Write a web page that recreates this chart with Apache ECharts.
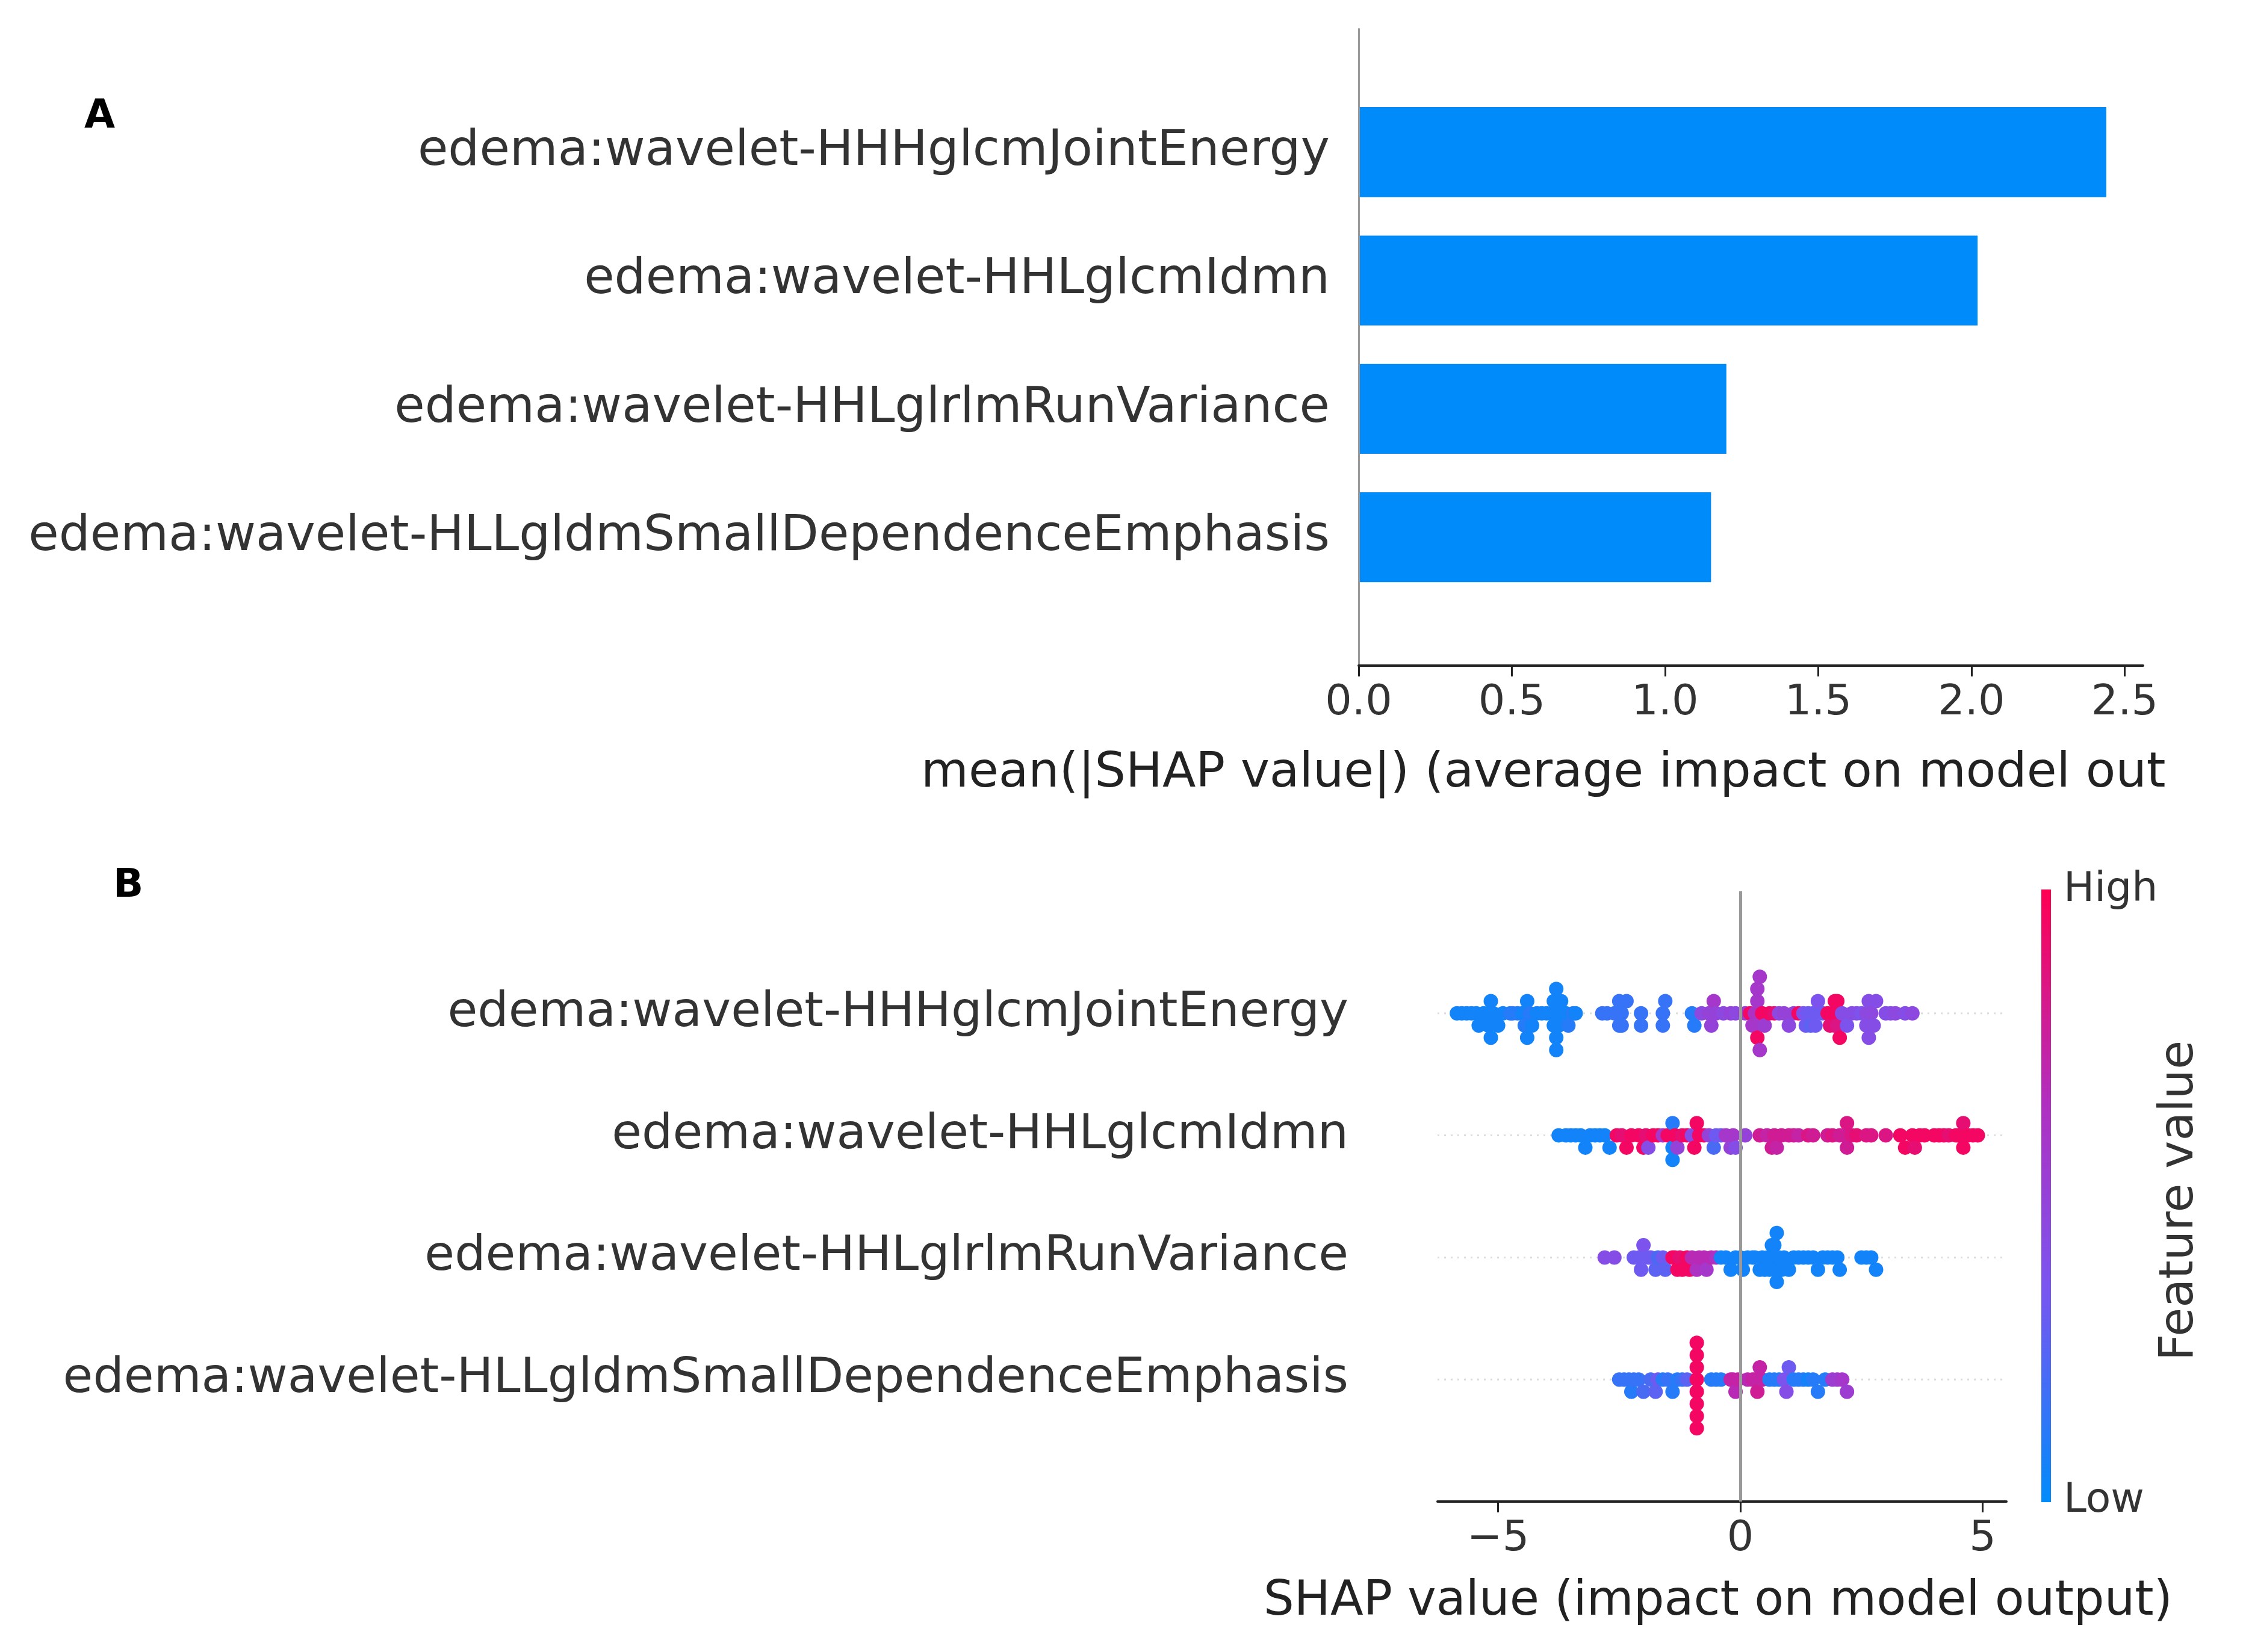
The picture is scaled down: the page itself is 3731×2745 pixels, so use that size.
<!DOCTYPE html>
<html><head><meta charset="utf-8">
<script src="https://cdn.jsdelivr.net/npm/echarts@6/dist/echarts.min.js"></script>
<style>html,body{margin:0;background:#fff}#c{width:3731px;height:2745px}</style>
</head><body><div id="c"></div>
<script>
// feature names, top to bottom
var features = ['edema:wavelet-HHHglcmJointEnergy', 'edema:wavelet-HHLglcmIdmn',
  'edema:wavelet-HHLglrlmRunVariance', 'edema:wavelet-HLLgldmSmallDependenceEmphasis'];
var meanAbsShap = [2.44, 2.02, 1.20, 1.15];
var barTicks = [0, 0.5, 1.0, 1.5, 2.0, 2.5];
var swarmTicks = [-5, 0, 5];

// [shap value, feature value 0..1] per feature
var row0 = [[-5.85,.05],[-5.75,.05],[-5.65,.05],[-5.55,.05],[-5.45,.05],[-5.4,.05],[-5.3,.05],[-5.2,.05],[-5.2,.05],[-5.15,.05],[-5.15,.05],[-5.1,.05],[-5.0,.05],[-4.9,.05],[-4.75,.1],[-4.7,.1],[-4.6,.1],[-4.5,.05],[-4.45,.1],[-4.4,.05],[-4.4,.05],[-4.35,.1],[-4.3,.05],[-4.2,.05],[-4.1,.05],[-4.0,.05],[-3.9,.05],[-3.85,.05],[-3.85,.05],[-3.8,.05],[-3.8,.05],[-3.8,.05],[-3.75,.05],[-3.75,.05],[-3.7,.05],[-3.6,.05],[-3.55,.1],[-3.45,.1],[-3.4,.05],
  [-2.85,.15],[-2.75,.15],[-2.6,.15],[-2.5,.15],[-2.5,.15],[-2.5,.15],[-2.45,.15],[-2.45,.15],[-2.35,.15],[-2.05,.15],[-2.05,.15],[-1.6,.15],[-1.6,.15],[-1.55,.15],
  [-1.0,.1],[-0.95,.1],[-0.8,.45],[-0.65,.5],[-0.6,.5],[-0.55,.6],[-0.5,.5],[-0.35,.45],[-0.2,.5],[-0.1,.45],
  [0.1,.55],[0.2,.95],[0.25,.6],[0.3,.65],[0.3,.6],[0.35,.6],[0.35,.95],[0.35,.6],[0.4,.6],[0.4,.6],[0.45,.95],[0.5,.55],[0.6,.95],[0.7,.9],[0.8,.45],[0.9,.5],[1.0,.45],[1.1,.5],[1.2,.95],[1.3,.35],[1.35,.3],[1.4,.3],[1.45,.25],[1.5,.3],[1.55,.3],[1.6,.35],[1.7,.3],[1.8,.95],[1.85,.9],[1.9,.95],[1.95,.9],[1.95,.95],[2.0,.95],[2.0,.85],[2.0,.95],[2.05,.95],[2.1,.4],[2.2,.35],[2.3,.4],[2.4,.4],[2.5,.35],[2.6,.45],[2.6,.4],[2.65,.4],[2.65,.4],[2.7,.45],[2.75,.4],[2.8,.4],[3.0,.4],[3.1,.4],[3.2,.45],[3.4,.4],[3.55,.45]];
var row1 = [[-3.75,.05],[-3.6,.05],[-3.5,.05],[-3.4,.05],[-3.3,.05],[-3.2,.05],[-3.1,.05],[-3.0,.05],[-2.9,.05],[-2.8,.05],[-2.7,.05],
  [-2.55,.95],[-2.45,.9],[-2.35,.95],[-2.25,.95],[-2.1,.95],[-2.0,.95],[-1.95,.9],[-1.9,.4],[-1.8,.95],[-1.7,.95],[-1.6,.6],[-1.5,.95],[-1.4,.05],[-1.4,.1],[-1.4,.05],[-1.35,.95],[-1.3,.5],[-1.2,.9],[-1.1,.95],[-1.0,.4],[-0.95,.95],[-0.9,.95],[-0.85,.95],[-0.75,.95],[-0.65,.5],[-0.55,.2],[-0.5,.3],[-0.4,.3],[-0.3,.6],[-0.2,.5],[-0.15,.6],[-0.1,.4],[0.1,.5],
  [0.4,.8],[0.55,.75],[0.65,.8],[0.7,.8],[0.75,.75],[0.85,.8],[1.0,.8],[1.1,.8],[1.2,.75],[1.4,.85],[1.5,.8],
  [1.8,.8],[1.9,.85],[2.05,.8],[2.15,.8],[2.2,.8],[2.2,.85],[2.3,.85],[2.4,.9],[2.6,.85],[2.7,.85],[3.0,.85],
  [3.3,.95],[3.4,.95],[3.55,.95],[3.6,.9],[3.7,.95],[3.8,.95],[4.0,.95],[4.1,.95],[4.2,.95],[4.3,.9],[4.45,.95],[4.5,.95],[4.6,.95],[4.6,.9],[4.7,.95],[4.8,.95],[4.9,.95]];
var row2 = [[-2.8,.4],[-2.6,.4],[-2.2,.3],[-2.1,.3],[-2.05,.3],[-2.0,.35],[-1.9,.3],[-1.85,.3],[-1.75,.25],[-1.7,.2],[-1.6,.3],[-1.55,.25],
  [-1.4,.95],[-1.35,.95],[-1.3,.95],[-1.25,.9],[-1.2,.95],[-1.1,.95],[-1.05,.95],[-1.0,.7],[-0.9,.65],[-0.85,.7],[-0.75,.7],[-0.7,.6],[-0.6,.7],[-0.5,.65],
  [-0.4,.05],[-0.3,.05],[-0.2,.05],[-0.1,.05],[0.0,.05],[0.05,.05],[0.15,.05],[0.25,.05],[0.3,.05],[0.4,.05],[0.45,.05],[0.5,.05],[0.55,.05],[0.6,.05],[0.65,.05],[0.7,.05],[0.7,.05],[0.7,.05],[0.75,.05],[0.75,.05],[0.8,.05],[0.85,.05],[0.9,.05],[1.0,.05],[1.1,.05],[1.2,.05],[1.3,.05],[1.4,.05],[1.5,.05],[1.6,.05],[1.7,.05],[1.8,.05],[1.9,.05],[2.0,.05],[2.05,.05],[2.5,.05],[2.6,.05],[2.7,.05],[2.8,.05]];
var row3 = [[-2.5,.15],[-2.4,.15],[-2.3,.15],[-2.25,.1],[-2.2,.15],[-2.1,.15],[-2.0,.2],[-1.85,.2],[-1.75,.25],[-1.7,.3],[-1.6,.1],[-1.5,.15],[-1.4,.1],[-1.3,.1],[-1.2,.15],[-1.1,.25],
  [-0.9,.95],[-0.9,.95],[-0.9,.95],[-0.9,.95],[-0.9,.95],[-0.9,.95],[-0.9,.95],[-0.9,.95],
  [-0.6,.1],[-0.5,.1],[-0.4,.1],
  [-0.2,.75],[-0.15,.75],[-0.1,.7],[-0.05,.75],[0.15,.7],[0.25,.75],[0.3,.75],[0.35,.8],[0.4,.75],[0.45,.75],
  [0.6,.1],[0.7,.1],[0.8,.1],[0.9,.35],[0.95,.4],[1.0,.3],[1.1,.1],[1.2,.1],[1.3,.1],[1.4,.05],[1.5,.1],[1.6,.1],[1.75,.1],[1.9,.55],[2.0,.55],[2.1,.6],[2.2,.55]];

var rows = [row0, row1, row2, row3];

// beeswarm layout: stack points sharing a quantized x bin
var swarm = [];
rows.forEach(function (r, ri) {
  var pts = r.slice().sort(function (a, b) { return a[0] - b[0]; });
  var lastBin = null, layer = 0;
  pts.forEach(function (p) {
    var bin = Math.round(p[0] / 0.12);
    if (bin !== lastBin) { layer = 0; lastBin = bin; }
    var off = Math.ceil(layer / 2) * ((layer % 2) * 2 - 1);
    layer++;
    swarm.push([p[0], ri + off * 0.1, p[1]]);
  });
});

var FONT = 'DejaVu Sans';
var chart = echarts.init(document.getElementById('c'));

var option = {
  backgroundColor: '#fff',
  animation: false,
  grid: [
    {left: 2257, right: 171, top: 48, bottom: 1639},
    {left: 2388, right: 398, top: 1481, bottom: 250}
  ],
  xAxis: [{
    gridIndex: 0, type: 'value', min: 0, max: 2.56,
    splitLine: {show: false},
    axisLine: {onZero: false, lineStyle: {color: '#222', width: 4}},
    axisTick: {customValues: barTicks, length: 18, lineStyle: {color: '#222', width: 3}},
    axisLabel: {customValues: barTicks, fontFamily: FONT, fontSize: 70, color: '#333', margin: 28,
      formatter: function (v) { return v.toFixed(1); }}
  }, {
    gridIndex: 1, type: 'value', min: -6.25, max: 5.49,
    splitLine: {show: false},
    axisLine: {onZero: false, lineStyle: {color: '#222', width: 4}},
    axisTick: {customValues: swarmTicks, length: 18, lineStyle: {color: '#222', width: 3}},
    axisLabel: {customValues: swarmTicks, fontFamily: FONT, fontSize: 70, color: '#333', margin: 28,
      formatter: function (v) { return String(v).replace('-', '\u2212'); }}
  }],
  yAxis: [{
    gridIndex: 0, type: 'value', inverse: true, min: -0.96, max: 4.0,
    splitLine: {show: false}, axisTick: {show: false}, axisLabel: {show: false},
    axisLine: {show: true, onZero: false, lineStyle: {color: '#999', width: 3}}
  }, {
    gridIndex: 1, type: 'value', inverse: true, min: -1, max: 4,
    show: false
  }],
  visualMap: {
    show: false, type: 'continuous', min: 0, max: 1, dimension: 2, seriesIndex: 3,
    inRange: {color: ['#008bfb', '#7a55f0', '#b02fc0', '#ff0052']}
  },
  graphic: [
    {type: 'text', left: 140, top: 162, style: {text: 'A', font: 'bold 66px ' + FONT, fill: '#000'}},
    {type: 'text', left: 188, top: 1440, style: {text: 'B', font: 'bold 66px ' + FONT, fill: '#000'}},
    {type: 'text', left: 1530, top: 1245, style: {text: 'mean(|SHAP value|) (average impact on model out', font: '81px ' + FONT, fill: '#222'}},
    {type: 'text', left: 2099, top: 2622, style: {text: 'SHAP value (impact on model output)', font: '80px ' + FONT, fill: '#222'}},
    {type: 'rect', shape: {x: 3391, y: 1478, width: 16, height: 1018},
      style: {fill: new echarts.graphic.LinearGradient(0, 0, 0, 1, [
        {offset: 0, color: '#ff0052'}, {offset: 0.35, color: '#b02fc0'},
        {offset: 0.65, color: '#7a55f0'}, {offset: 1, color: '#008bfb'}])}},
    {type: 'text', left: 3428, top: 1445, style: {text: 'High', font: '68px ' + FONT, fill: '#333'}},
    {type: 'text', left: 3428, top: 2460, style: {text: 'Low', font: '68px ' + FONT, fill: '#333'}},
    {type: 'text', x: 3622, y: 1995, rotation: Math.PI / 2,
      style: {text: 'Feature value', font: '78px ' + FONT, fill: '#333', align: 'center', verticalAlign: 'middle'}}
  ],
  series: [{
    // panel A bars
    type: 'custom', xAxisIndex: 0, yAxisIndex: 0,
    data: meanAbsShap.map(function (v, i) { return [v, i]; }),
    renderItem: function (params, api) {
      var p0 = api.coord([0, api.value(1) - 0.35]);
      var p1 = api.coord([api.value(0), api.value(1) + 0.35]);
      return {type: 'rect', shape: {x: p0[0] + 2, y: p0[1], width: p1[0] - p0[0] - 2, height: p1[1] - p0[1]},
        style: {fill: '#008bfb'}};
    }
  }, {
    // panel A labels
    type: 'custom', xAxisIndex: 0, yAxisIndex: 0, silent: true,
    data: features.map(function (f, i) { return [0, i]; }),
    renderItem: function (params, api) {
      var p = api.coord([0, api.value(1)]);
      return {type: 'text', x: p[0] - 48, y: p[1],
        style: {text: features[params.dataIndex], font: '82px ' + FONT, fill: '#333', align: 'right', verticalAlign: 'middle'}};
    }
  }, {
    // panel B labels + dotted row guides
    type: 'custom', xAxisIndex: 1, yAxisIndex: 1, silent: true,
    data: features.map(function (f, i) { return [-6.25, i]; }),
    renderItem: function (params, api) {
      var p = api.coord([-6.25, api.value(1)]);
      var q = api.coord([5.49, api.value(1)]);
      return {type: 'group', children: [
        {type: 'line', shape: {x1: p[0], y1: p[1], x2: q[0], y2: q[1]},
          style: {stroke: '#ddd', lineWidth: 3, lineDash: [3, 8]}},
        {type: 'text', x: p[0] - 148, y: p[1],
          style: {text: features[params.dataIndex], font: '81px ' + FONT, fill: '#333', align: 'right', verticalAlign: 'middle'}}
      ]};
    }
  }, {
    // panel B beeswarm
    type: 'scatter', xAxisIndex: 1, yAxisIndex: 1,
    symbolSize: 24, data: swarm, itemStyle: {opacity: 1},
    markLine: {
      silent: true, symbol: 'none', label: {show: false},
      lineStyle: {color: '#999', width: 5, type: 'solid'},
      data: [{xAxis: 0}]
    },
    z: 3
  }]
};

chart.setOption(option);
</script>
</body></html>
